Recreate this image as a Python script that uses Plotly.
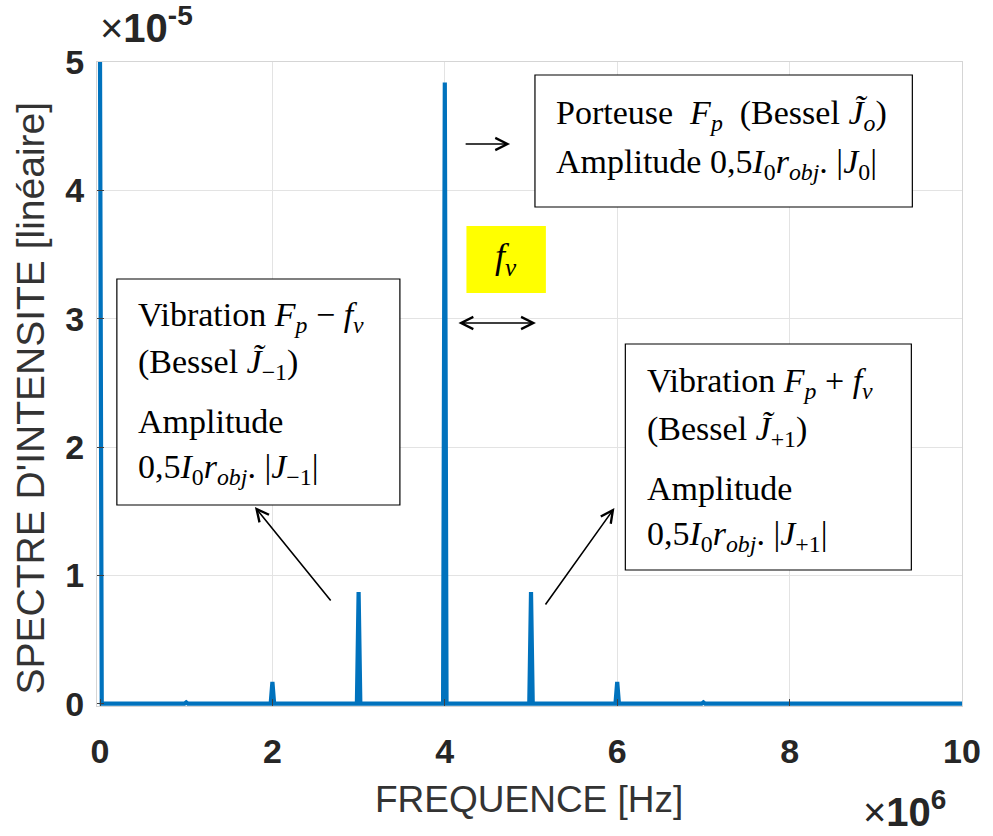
import plotly.graph_objects as go

# ---------------- data ----------------
peak_freq_hz = [0.0, 1.0e6, 2.0e6, 3.0e6, 4.0e6, 5.0e6, 6.0e6, 7.0e6]
peak_amp = [5.0e-5, 0.01e-5, 0.17e-5, 0.87e-5, 4.84e-5, 0.87e-5, 0.17e-5, 0.01e-5]
f_max_hz = 10.0e6
half_base_hz = 0.02e6

x_tick_vals = [0, 2e6, 4e6, 6e6, 8e6, 10e6]
x_tick_text = ["0", "2", "4", "6", "8", "10"]
y_tick_vals = [0, 1e-5, 2e-5, 3e-5, 4e-5, 5e-5]
y_tick_text = ["0", "1", "2", "3", "4", "5"]

x_title = "FREQUENCE [Hz]"
y_title = "SPECTRE D'INTENSITE [linéaire]"

# build spectrum polyline from peaks
xs, ys = [], []
for f, a in zip(peak_freq_hz, peak_amp):
    if f <= 0:
        xs += [f, f + half_base_hz]
        ys += [a, 0.0]
    else:
        xs += [f - half_base_hz, f, f + half_base_hz]
        ys += [0.0, a, 0.0]
xs.append(f_max_hz)
ys.append(0.0)

# ---------------- layout geometry ----------------
W, H = 993, 836
L, R, T, B = 97, 968, 62, 706


def px(x):
    return (x - L) / (R - L)


def py(y):
    return (B - y) / (B - T)


fig = go.Figure()
fig.add_trace(go.Scatter(x=xs, y=ys, mode="lines",
                         line=dict(color="#0072BD", width=4.2),
                         hoverinfo="skip", showlegend=False))

NB = "\u00a0"
serif = "Liberation Serif"
TS = 34

shapes = []
annotations = []


def box(x0, y0, x1, y1, fill="white", line=True):
    shapes.append(dict(type="rect", xref="paper", yref="paper",
                       x0=px(x0), x1=px(x1), y0=py(y1), y1=py(y0),
                       fillcolor=fill, layer="above",
                       line=dict(color="black" if line else "rgba(0,0,0,0)",
                                 width=1.2 if line else 0)))


def text(x, y, t, anchor="left", size=TS):
    annotations.append(dict(xref="paper", yref="paper", x=px(x), y=py(y),
                            xanchor=anchor, yanchor="middle", text=t,
                            showarrow=False,
                            font=dict(family=serif, size=size, color="black")))


def arrow(hx, hy, tx, ty, both=False):
    annotations.append(dict(xref="paper", yref="paper", x=px(hx), y=py(hy),
                            ax=tx - hx, ay=ty - hy, axref="pixel", ayref="pixel",
                            text="", showarrow=True, arrowhead=5,
                            arrowsize=1.5, arrowwidth=1.6, arrowcolor="black",
                            arrowside="end+start" if both else "end"))


JT = "<i>J\u0303</i>"

# top box (carrier)
box(538, 75, 918, 207)
text(557, 115, "Porteuse" + NB * 2 + "<i>F<sub>p</sub></i>" + NB * 2
     + "(Bessel" + NB + "<i>J\u0303<sub>o</sub></i>)")
text(557, 164, "Amplitude" + NB + "0,5<i>I</i><sub>0</sub><i>r<sub>obj</sub></i>." + NB
     + "|<i>J</i><sub>0</sub>|")

# left box
box(117, 279, 402, 505)
text(136, 317, "Vibration" + NB + "<i>F<sub>p</sub></i>" + NB + "\u2212" + NB + "<i>f<sub>v</sub></i>")
text(136, 364, "(Bessel" + NB + JT + "<sub>\u22121</sub>)")
text(136, 422, "Amplitude")
text(136, 469, "0,5<i>I</i><sub>0</sub><i>r<sub>obj</sub></i>." + NB
     + "|<i>J</i><sub>\u22121</sub>|")

# right box
box(629, 344, 917, 570)
text(649, 383, "Vibration" + NB + "<i>F<sub>p</sub></i>" + NB + "+" + NB + "<i>f<sub>v</sub></i>")
text(649, 431, "(Bessel" + NB + JT + "<sub>+1</sub>)")
text(649, 488, "Amplitude")
text(649, 536, "0,5<i>I</i><sub>0</sub><i>r<sub>obj</sub></i>." + NB
     + "|<i>J</i><sub>+1</sub>|")

# yellow f_v box
box(469, 226, 549, 293, fill="#FFFF00", line=False)
text(509, 258, "<i>f<sub>v</sub></i>", anchor="center", size=36)

# arrows
arrow(513, 144, 467, 144)
arrow(539, 323, 460, 323, both=True)
arrow(256, 507, 333, 602)
arrow(618, 508, 548, 606)

# axis multipliers
annotations.append(dict(xref="paper", yref="paper", x=px(98), y=py(52),
                        xanchor="left", yanchor="bottom",
                        text="\u00d7<b>10<sup>-5</sup></b>", showarrow=False,
                        font=dict(family="Liberation Sans", size=40, color="#262626")))
annotations.append(dict(xref="paper", yref="paper", x=px(866), y=py(836),
                        xanchor="left", yanchor="bottom",
                        text="\u00d7<b>10<sup>6</sup></b>", showarrow=False,
                        font=dict(family="Liberation Sans", size=40, color="#262626")))

# axis titles
annotations.append(dict(xref="paper", yref="paper", x=px(532), y=py(800),
                        xanchor="center", yanchor="middle", text=x_title,
                        showarrow=False,
                        font=dict(family="Liberation Sans", size=37, color="#333333")))
annotations.append(dict(xref="paper", yref="paper", x=px(30), y=py(398),
                        xanchor="center", yanchor="middle", text=y_title,
                        textangle=-90, showarrow=False,
                        font=dict(family="Liberation Sans", size=39, color="#333333")))

axis_common = dict(showgrid=True, gridcolor="#e3e3e3", gridwidth=1,
                   showline=True, linecolor="#d5d5d5", linewidth=1, mirror=True,
                   ticks="inside", ticklen=7, tickcolor="#404040", tickwidth=1,
                   zeroline=False,
                   tickfont=dict(family="Liberation Sans", size=34,
                                 color="#262626", weight="bold"))

fig.update_layout(
    width=W, height=H,
    margin=dict(l=L, r=W - R, t=T, b=H - B),
    paper_bgcolor="white", plot_bgcolor="white",
    xaxis=dict(range=[-0.035e6, f_max_hz], tickvals=x_tick_vals, ticktext=x_tick_text,
               ticklabelstandoff=15, **axis_common),
    yaxis=dict(range=[-0.018e-5, 5.0e-5], tickvals=y_tick_vals, ticktext=y_tick_text,
               ticklabelstandoff=5, **axis_common),
    shapes=shapes,
    annotations=annotations,
)

fig.write_html("out.html",
               config={"displayModeBar": False},
               post_script="document.body.style.margin='0px';"
                           "document.body.style.overflow='hidden';")
